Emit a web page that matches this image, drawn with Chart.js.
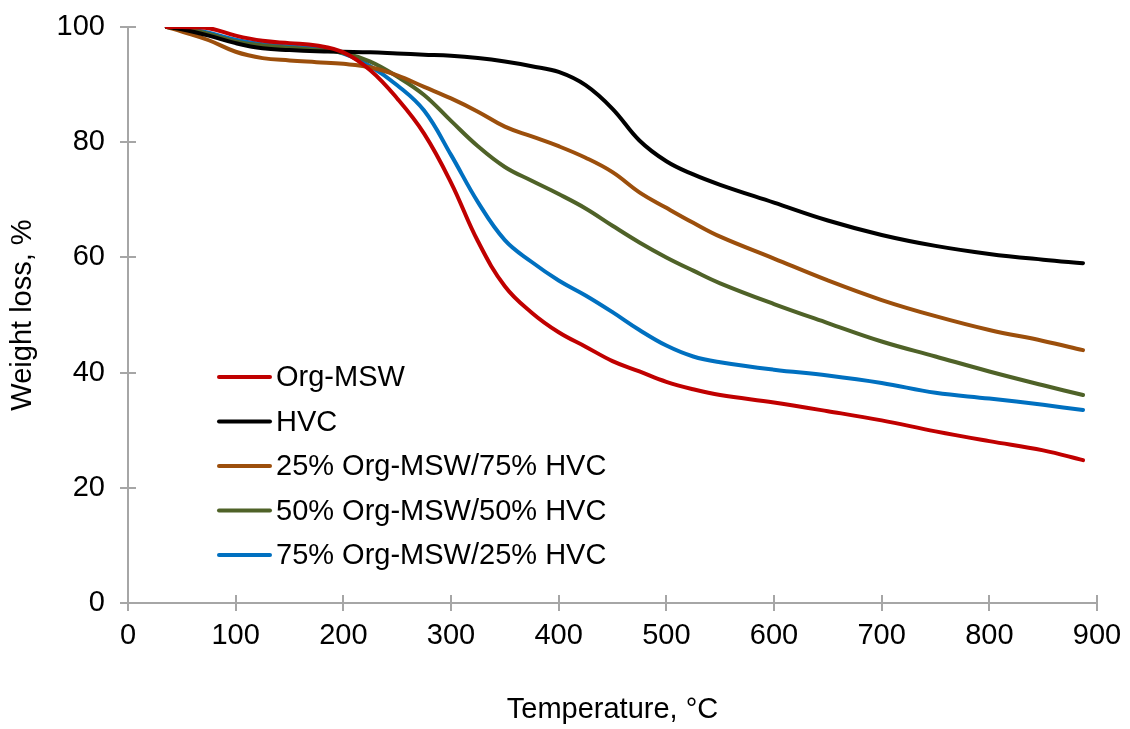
<!DOCTYPE html>
<html>
<head>
<meta charset="utf-8">
<script src="https://cdn.jsdelivr.net/npm/chart.js@4/dist/chart.umd.min.js"></script>
<style>
  html, body { margin: 0; padding: 0; background: #fff; }
  #wrap { width: 1130px; height: 729px; }
</style>
</head>
<body>
<div id="wrap"><canvas id="tga"></canvas></div>
<script>
// TGA curves, temperature in °C
const temps = [36, 50, 75, 100, 125, 150, 175, 200, 225, 250, 275, 300, 325, 350, 375, 400, 425, 450, 475, 500, 525, 550, 600, 650, 700, 750, 800, 850, 887];

const orgMsw = [100, 100, 99.8, 98.5, 97.6, 97.2, 96.8, 95.6, 92.5, 87.6, 81.5, 73.0, 62.8, 55.0, 50.4, 47.0, 44.5, 42.0, 40.2, 38.4, 37.1, 36.1, 34.8, 33.3, 31.7, 29.8, 28.1, 26.5, 24.8];
const hvc = [100, 99.6, 98.5, 97.2, 96.3, 96.0, 95.8, 95.7, 95.6, 95.4, 95.2, 95.0, 94.6, 94.0, 93.2, 92.2, 89.9, 85.8, 80.3, 76.7, 74.4, 72.6, 69.5, 66.4, 63.9, 62.0, 60.6, 59.6, 59.0];
const blend25 = [100, 99.2, 97.7, 95.7, 94.6, 94.2, 93.9, 93.6, 93.0, 91.6, 89.6, 87.6, 85.3, 82.7, 81.0, 79.3, 77.3, 74.8, 71.3, 68.6, 66.0, 63.6, 59.8, 56.0, 52.6, 49.8, 47.4, 45.5, 43.9];
const blend50 = [100, 99.8, 98.8, 97.5, 96.8, 96.4, 96.0, 95.5, 94.0, 91.4, 88.2, 83.7, 79.3, 75.7, 73.3, 71.0, 68.5, 65.5, 62.6, 60.0, 57.7, 55.5, 51.9, 48.6, 45.4, 42.8, 40.2, 37.8, 36.1];
const blend75 = [100, 99.9, 99.0, 97.8, 97.0, 96.6, 96.3, 95.4, 93.2, 89.9, 85.5, 77.8, 69.6, 63.0, 59.2, 56.0, 53.4, 50.5, 47.4, 44.7, 42.8, 41.8, 40.5, 39.5, 38.2, 36.5, 35.5, 34.4, 33.5];

const seriesLabels = ['Org-MSW', 'HVC', '25% Org-MSW/75% HVC', '50% Org-MSW/50% HVC', '75% Org-MSW/25% HVC'];
const seriesColors = ['#c00000', '#000000', '#9c4f0c', '#4f6228', '#0070c0'];
const seriesValues = [orgMsw, hvc, blend25, blend50, blend75];

const xTicks = [0, 100, 200, 300, 400, 500, 600, 700, 800, 900];
const yTicks = [0, 20, 40, 60, 80, 100];

const FONT = 'Liberation Sans, Arial, Helvetica, sans-serif';
const FONT_SIZE = 29;
const AXIS_GREY = '#a6a6a6';

// ticks cross the axis line: Chart.js draws the outer half, this adds the inner half
const innerTicks = {
    id: 'innerTicks',
    afterDraw(chart) {
        const ctx = chart.ctx;
        const xs = chart.scales.x, ys = chart.scales.y;
        const area = chart.chartArea;
        ctx.save();
        ctx.strokeStyle = AXIS_GREY;
        ctx.lineWidth = 2;
        ctx.beginPath();
        xTicks.forEach(v => {
            const px = Math.round(xs.getPixelForValue(v));
            ctx.moveTo(px, area.bottom);
            ctx.lineTo(px, area.bottom - 8);
        });
        yTicks.forEach(v => {
            const py = Math.round(ys.getPixelForValue(v));
            ctx.moveTo(area.left, py);
            ctx.lineTo(area.left + 8, py);
        });
        ctx.stroke();
        ctx.restore();
    }
};

// legend sits inside the plot, lower left
const insideLegend = {
    id: 'insideLegend',
    afterDraw(chart) {
        const ctx = chart.ctx;
        ctx.save();
        ctx.font = FONT_SIZE + 'px ' + FONT;
        ctx.textBaseline = 'middle';
        ctx.fillStyle = '#000';
        chart.data.datasets.forEach((ds, i) => {
            const y = 377 + i * 44.5;
            ctx.strokeStyle = ds.borderColor;
            ctx.lineWidth = 4;
            ctx.lineCap = 'round';
            ctx.beginPath();
            ctx.moveTo(219, y);
            ctx.lineTo(270, y);
            ctx.stroke();
            ctx.fillText(ds.label, 276, y + 1);
        });
        ctx.restore();
    }
};

const datasets = seriesLabels.map((label, i) => ({
    label: label,
    data: temps.map((t, j) => ({ x: t, y: seriesValues[i][j] })),
    borderColor: seriesColors[i],
    backgroundColor: seriesColors[i],
    borderWidth: 4,
    borderCapStyle: 'round',
    borderJoinStyle: 'round',
    pointRadius: 0,
    showLine: true,
    fill: false,
    tension: 0.4
}));

new Chart(document.getElementById('tga'), {
    type: 'scatter',
    data: { datasets: datasets },
    options: {
        responsive: true,
        maintainAspectRatio: false,
        animation: false,
        layout: { padding: { left: 6, right: 33, top: 27, bottom: 2 } },
        plugins: {
            legend: { display: false },
            tooltip: { enabled: false }
        },
        scales: {
            x: {
                type: 'linear',
                min: 0,
                max: 900,
                afterBuildTicks: scale => { scale.ticks = xTicks.map(v => ({ value: v })); },
                afterFit: scale => {
                    scale.height = 124;
                    scale.paddingLeft = 0;
                    scale.paddingRight = 0;
                },
                grid: { drawOnChartArea: false, drawTicks: true, tickLength: 8, color: AXIS_GREY, lineWidth: 2 },
                border: { display: true, color: AXIS_GREY, width: 2 },
                ticks: { color: '#000', padding: 8, font: { family: FONT, size: FONT_SIZE }, maxRotation: 0 },
                title: {
                    display: true,
                    text: 'Temperature, °C',
                    color: '#000',
                    font: { family: FONT, size: FONT_SIZE },
                    padding: { top: 0, bottom: 0 }
                }
            },
            y: {
                type: 'linear',
                min: 0,
                max: 100,
                afterBuildTicks: scale => { scale.ticks = yTicks.map(v => ({ value: v })); },
                afterFit: scale => {
                    scale.width = 122;
                    scale.paddingTop = 0;
                    scale.paddingBottom = 0;
                },
                grid: { drawOnChartArea: false, drawTicks: true, tickLength: 8, color: AXIS_GREY, lineWidth: 2 },
                border: { display: true, color: AXIS_GREY, width: 2 },
                ticks: { color: '#000', padding: 15, font: { family: FONT, size: FONT_SIZE } },
                title: {
                    display: true,
                    text: 'Weight loss, %',
                    color: '#000',
                    font: { family: FONT, size: FONT_SIZE },
                    padding: { top: 0, bottom: 0 }
                }
            }
        }
    },
    plugins: [innerTicks, insideLegend]
});
</script>
</body>
</html>
